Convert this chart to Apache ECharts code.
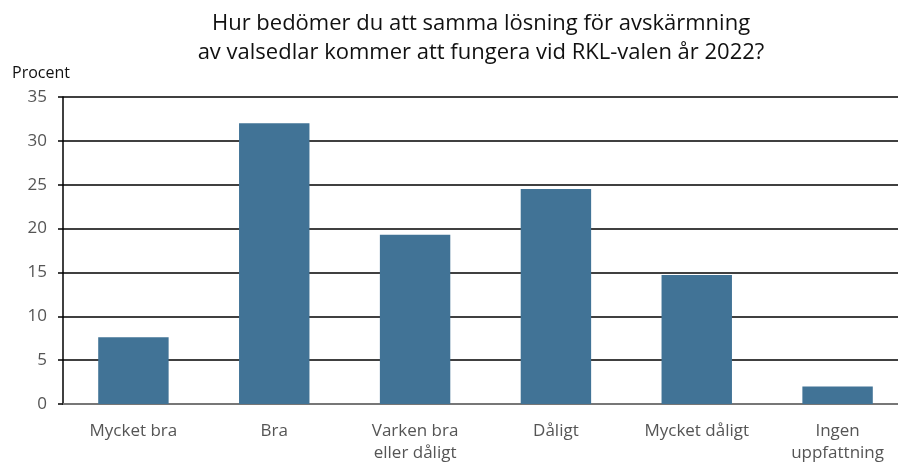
<!DOCTYPE html>
<html>
<head>
<meta charset="utf-8">
<script src="https://cdn.jsdelivr.net/npm/echarts@6/dist/echarts.min.js"></script>
<style>
  html, body { margin: 0; padding: 0; background: #fff; }
  #chart { width: 898px; height: 463px; }
</style>
</head>
<body>
<div id="chart"></div>
<script>
const categories = ['Mycket bra', 'Bra', 'Varken bra\neller dåligt', 'Dåligt', 'Mycket dåligt', 'Ingen\nuppfattning'];
const values = [7.6, 32, 19.3, 24.5, 14.7, 2];

const chart = echarts.init(document.getElementById('chart'));
const font = 'Open Sans, sans-serif';

chart.setOption({
  animation: false,
  title: {
    text: 'Hur bedömer du att samma lösning för avskärmning\nav valsedlar kommer att fungera vid RKL-valen år 2022?',
    left: 476,
    top: 4,
    textAlign: 'center',
    textStyle: { fontFamily: font, fontSize: 22, fontWeight: 'normal', color: '#111', lineHeight: 29 }
  },
  grid: { left: 63, width: 845, top: 97, bottom: 59, outerBoundsMode: 'none', containLabel: false },
  xAxis: {
    type: 'category',
    data: categories,
    axisLine: { lineStyle: { color: '#777', width: 2 } },
    axisTick: { show: false },
    axisLabel: { fontFamily: font, fontSize: 17, color: '#555', margin: 16, lineHeight: 22, interval: 0 }
  },
  yAxis: {
    type: 'value',
    min: 0,
    max: 35,
    interval: 5,
    name: 'Procent',
    nameLocation: 'end',
    nameGap: 16,
    nameTextStyle: { fontFamily: font, fontSize: 16, color: '#111', align: 'left', padding: [0, 0, 0, -51] },
    axisLine: { show: true, lineStyle: { color: '#000', width: 1.5 } },
    axisTick: { show: true, length: 5, lineStyle: { color: '#000', width: 1.5 } },
    axisLabel: { fontFamily: font, fontSize: 17, color: '#555', margin: 16 },
    splitLine: { lineStyle: { color: '#000', width: 1.5 } }
  },
  series: [{
    type: 'bar',
    data: values,
    barWidth: '50%',
    itemStyle: { color: '#417396' }
  }]
});
</script>
</body>
</html>
